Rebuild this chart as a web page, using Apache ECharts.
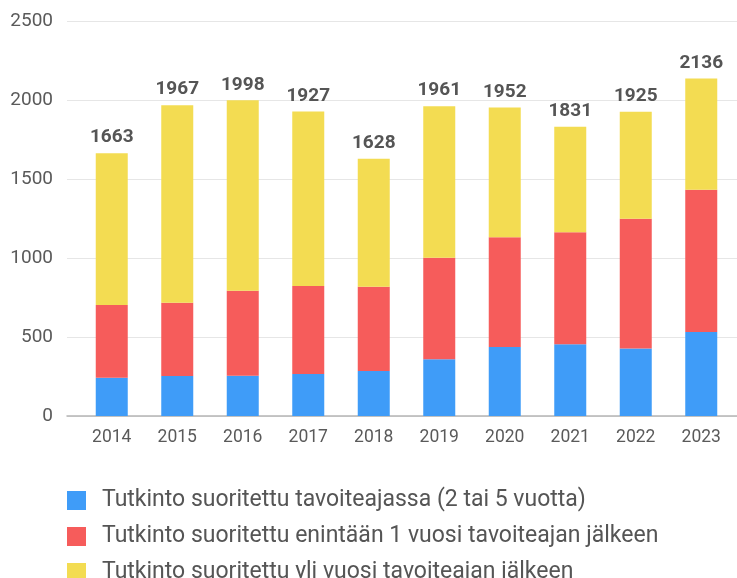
<!DOCTYPE html>
<html><head><meta charset="utf-8">
<script src="https://cdn.jsdelivr.net/npm/echarts@6/dist/echarts.min.js"></script>
<style>html,body{margin:0;padding:0;background:#fff}#c{width:737px;height:578px}</style>
</head><body><div id="c"></div>
<script>
const years = ['2014','2015','2016','2017','2018','2019','2020','2021','2022','2023'];
const onTime = [242,253,255,266,285,359,437,454,428,532];
const withinYear = [461,464,538,557,533,643,694,709,821,900];
const overYear = [960,1250,1205,1104,810,959,821,668,676,704];
const totals = [1663,1967,1998,1927,1628,1961,1952,1831,1925,2136];
const names = ['Tutkinto suoritettu tavoiteajassa (2 tai 5 vuotta)','Tutkinto suoritettu enintään 1 vuosi tavoiteajan jälkeen','Tutkinto suoritettu yli vuosi tavoiteajan jälkeen'];
const yTicks = {min:0, max:2500, interval:500};
const colors = ['#3f9cf8','#f65c5b','#f3dc52'];
const font = 'Roboto, "Liberation Sans", sans-serif';

const legendTops = [489, 525, 561];
const legends = names.map((n,i)=>({
  orient:'vertical', left:67, top:legendTops[i], padding:0, itemWidth:19, itemHeight:19,
  icon:'rect', textStyle:{fontSize:23, color:'#555', fontFamily:font, padding:[0,0,0,11]},
  data:[n]
}));

const chart = echarts.init(document.getElementById('c'));
chart.setOption({
  animation:false,
  textStyle:{fontFamily:font},
  grid:[
    {left:67, right:0, top:21, bottom:162},
    {left:79, right:3, top:21, bottom:162}
  ],
  xAxis:[
    {type:'category', gridIndex:0, data:years, axisLine:{show:true,lineStyle:{color:'#b5b5b5',width:1.5}}, axisTick:{show:false}, axisLabel:{show:false}},
    {type:'category', gridIndex:1, data:years, axisLine:{show:false}, axisTick:{show:false},
     axisLabel:{color:'#5a5a5a', fontSize:17.5, margin:13, fontFamily:font}}
  ],
  yAxis:[
    {type:'value', gridIndex:0, min:yTicks.min, max:yTicks.max, interval:yTicks.interval,
     axisLine:{show:false}, axisTick:{show:false},
     axisLabel:{color:'#5a5a5a', fontSize:19, margin:14, fontFamily:font, formatter:v=>String(v)},
     splitLine:{lineStyle:{color:'#e6e6e6',width:1}}},
    {type:'value', gridIndex:1, min:yTicks.min, max:yTicks.max, interval:yTicks.interval, show:false, splitLine:{show:false}}
  ],
  legend:legends,
  series:[
    {name:names[0], type:'bar', stack:'s', xAxisIndex:1, yAxisIndex:1, data:onTime, barWidth:32, itemStyle:{color:colors[0]}},
    {name:names[1], type:'bar', stack:'s', xAxisIndex:1, yAxisIndex:1, data:withinYear, barWidth:32, itemStyle:{color:colors[1]}},
    {name:names[2], type:'bar', stack:'s', xAxisIndex:1, yAxisIndex:1, data:overYear, barWidth:32, itemStyle:{color:colors[2]},
     label:{show:true, position:'top', distance:6, color:'#555', fontWeight:'bold', fontSize:19, fontFamily:font,
       formatter:p=>totals[p.dataIndex]}}
  ]
});
</script></body></html>
